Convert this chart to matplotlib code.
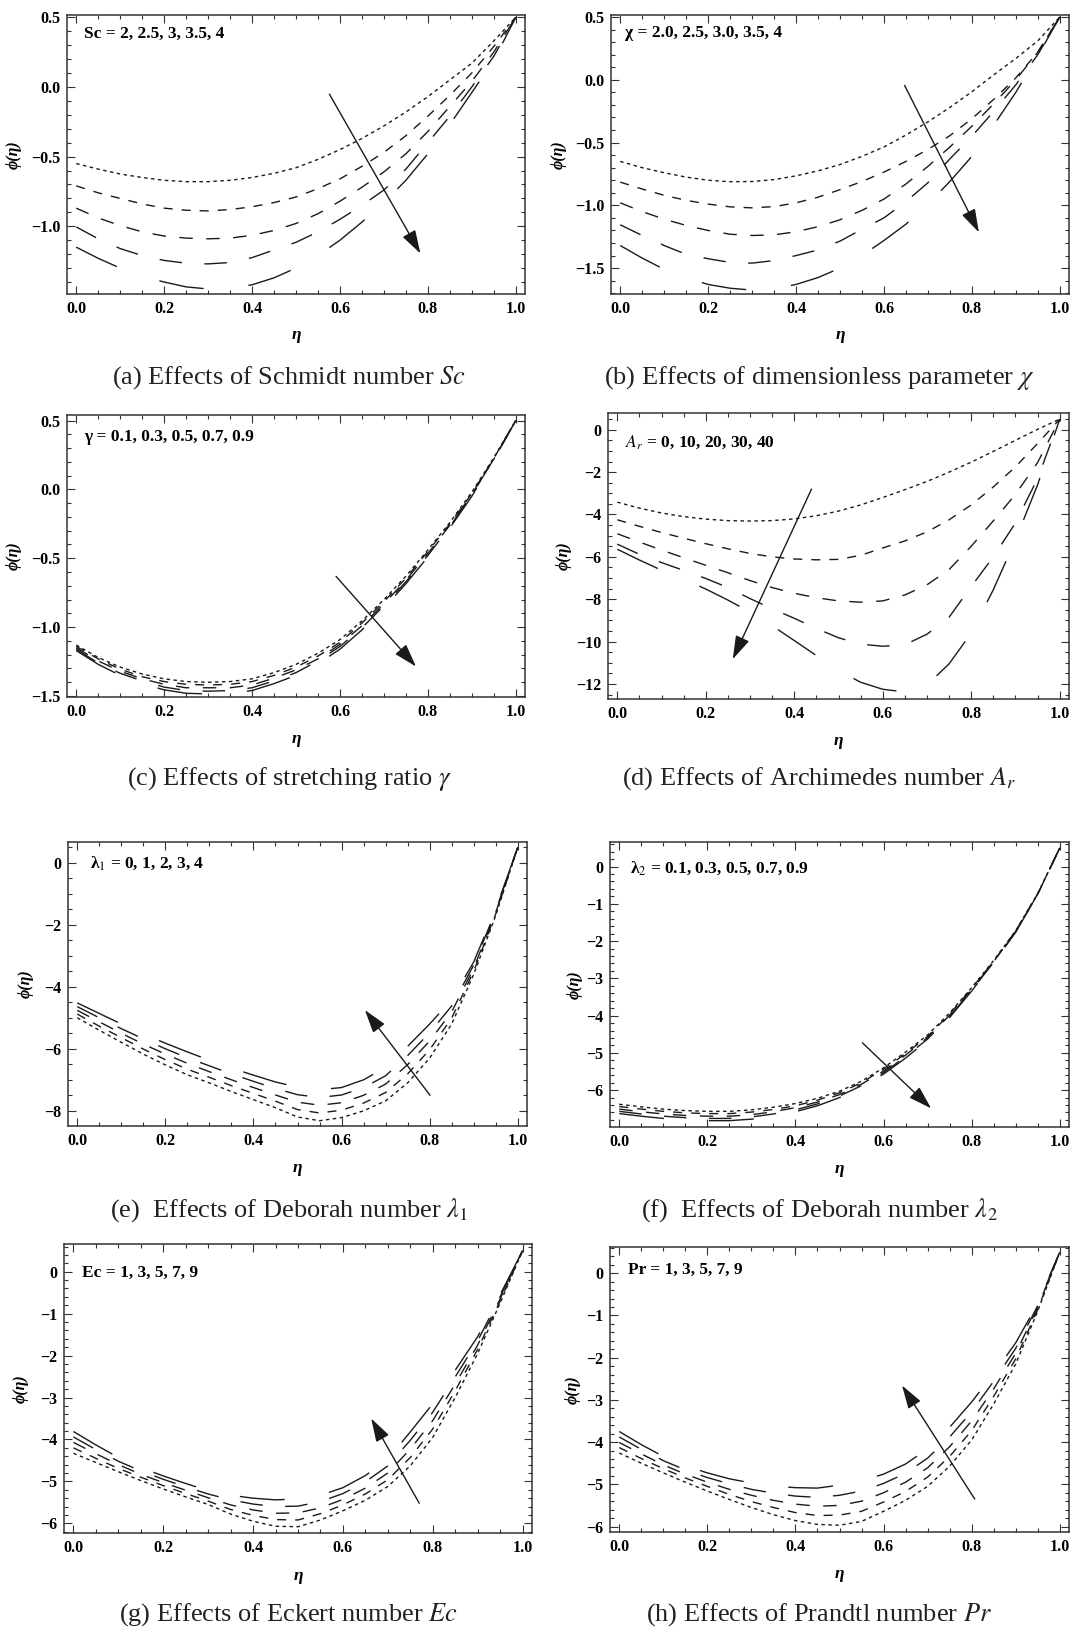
import matplotlib
matplotlib.use('Agg')
import matplotlib.pyplot as plt
from matplotlib.ticker import MultipleLocator, FuncFormatter

plt.rcParams['font.family'] = ['Liberation Serif', 'DejaVu Serif']
plt.rcParams['mathtext.fontset'] = 'stix'
plt.rcParams['lines.scale_dashes'] = False

# similarity variable
eta = [0.0, 0.05, 0.1, 0.15, 0.2, 0.25, 0.3, 0.35, 0.4, 0.45, 0.5,
       0.55, 0.6, 0.65, 0.7, 0.75, 0.8, 0.85, 0.9, 0.95, 1.0]

# (a) Schmidt number Sc = 2, 2.5, 3, 3.5, 4
phi_sc = [
    [-0.55, -0.59, -0.625, -0.65, -0.67, -0.68, -0.68, -0.67, -0.65, -0.62, -0.58, -0.52, -0.45, -0.37, -0.28, -0.18, -0.07, 0.05, 0.17, 0.33, 0.50],
    [-0.71, -0.76, -0.80, -0.84, -0.87, -0.885, -0.89, -0.88, -0.86, -0.83, -0.79, -0.73, -0.66, -0.57, -0.47, -0.35, -0.21, -0.06, 0.10, 0.29, 0.50],
    [-0.87, -0.94, -0.995, -1.04, -1.07, -1.085, -1.09, -1.085, -1.065, -1.03, -0.98, -0.91, -0.82, -0.72, -0.61, -0.48, -0.32, -0.14, 0.04, 0.25, 0.50],
    [-1.005, -1.09, -1.16, -1.21, -1.245, -1.265, -1.27, -1.26, -1.225, -1.17, -1.115, -1.04, -0.95, -0.85, -0.74, -0.59, -0.40, -0.21, 0.0, 0.22, 0.50],
    [-1.15, -1.23, -1.30, -1.36, -1.40, -1.435, -1.45, -1.445, -1.42, -1.37, -1.30, -1.21, -1.10, -0.97, -0.83, -0.67, -0.48, -0.27, -0.04, 0.19, 0.50],
]

# (b) chi = 2.0, 2.5, 3.0, 3.5, 4
phi_chi = [
    [-0.65, -0.70, -0.74, -0.775, -0.80, -0.812, -0.81, -0.795, -0.765, -0.725, -0.675, -0.61, -0.535, -0.44, -0.335, -0.22, -0.095, 0.04, 0.17, 0.31, 0.50],
    [-0.815, -0.87, -0.92, -0.96, -0.99, -1.012, -1.02, -1.01, -0.98, -0.935, -0.875, -0.81, -0.735, -0.65, -0.555, -0.445, -0.31, -0.155, 0.015, 0.22, 0.50],
    [-0.98, -1.05, -1.11, -1.16, -1.20, -1.23, -1.24, -1.235, -1.21, -1.17, -1.115, -1.04, -0.95, -0.83, -0.69, -0.535, -0.37, -0.19, 0.0, 0.22, 0.50],
    [-1.155, -1.24, -1.32, -1.39, -1.425, -1.455, -1.46, -1.44, -1.40, -1.355, -1.285, -1.19, -1.10, -0.97, -0.82, -0.63, -0.45, -0.25, -0.04, 0.20, 0.50],
    [-1.32, -1.42, -1.51, -1.575, -1.63, -1.66, -1.675, -1.665, -1.63, -1.575, -1.50, -1.40, -1.28, -1.15, -0.99, -0.81, -0.61, -0.36, -0.10, 0.19, 0.50],
]

# (c) stretching ratio gamma = 0.1 ... 0.9
phi_gamma = [
    [-1.13, -1.22, -1.29, -1.34, -1.375, -1.395, -1.40, -1.395, -1.375, -1.33, -1.27, -1.19, -1.09, -0.955, -0.80, -0.63, -0.44, -0.24, -0.02, 0.23, 0.50],
    [-1.14, -1.23, -1.305, -1.36, -1.395, -1.415, -1.42, -1.415, -1.395, -1.35, -1.29, -1.21, -1.11, -0.97, -0.815, -0.645, -0.45, -0.25, -0.03, 0.225, 0.50],
    [-1.15, -1.245, -1.32, -1.375, -1.415, -1.44, -1.44, -1.44, -1.42, -1.37, -1.31, -1.23, -1.125, -0.99, -0.83, -0.66, -0.465, -0.26, -0.035, 0.22, 0.50],
    [-1.16, -1.26, -1.335, -1.39, -1.435, -1.46, -1.465, -1.46, -1.44, -1.39, -1.33, -1.245, -1.14, -1.005, -0.845, -0.67, -0.48, -0.27, -0.04, 0.22, 0.50],
    [-1.17, -1.27, -1.35, -1.41, -1.455, -1.48, -1.485, -1.48, -1.46, -1.41, -1.35, -1.265, -1.16, -1.02, -0.86, -0.685, -0.49, -0.28, -0.05, 0.215, 0.50],
]

# (d) Archimedes number Ar = 0, 10, 20, 30, 40
phi_ar = [
    [-3.42, -3.70, -3.93, -4.10, -4.22, -4.29, -4.31, -4.29, -4.21, -4.06, -3.84, -3.55, -3.20, -2.83, -2.44, -2.00, -1.53, -1.02, -0.50, 0.02, 0.50],
    [-4.25, -4.56, -4.85, -5.12, -5.38, -5.62, -5.84, -6.00, -6.10, -6.14, -6.12, -5.93, -5.58, -5.25, -4.82, -4.25, -3.55, -2.70, -1.75, -0.65, 0.50],
    [-4.91, -5.30, -5.68, -6.04, -6.40, -6.75, -7.12, -7.45, -7.72, -7.93, -8.08, -8.14, -8.08, -7.80, -7.32, -6.60, -5.50, -4.30, -3.05, -1.55, 0.50],
    [-5.40, -5.88, -6.27, -6.64, -7.02, -7.45, -7.97, -8.45, -8.90, -9.38, -9.82, -10.12, -10.22, -10.15, -9.65, -8.85, -7.40, -6.00, -4.40, -2.30, 0.50],
    [-5.64, -6.15, -6.63, -7.05, -7.52, -8.04, -8.60, -9.25, -9.95, -10.66, -11.35, -11.92, -12.25, -12.38, -12.05, -11.05, -9.60, -7.55, -5.20, -2.60, 0.50],
]

# (e) Deborah number lambda1 = 0, 1, 2, 3, 4
phi_l1 = [
    [-5.00, -5.40, -5.79, -6.17, -6.52, -6.84, -7.10, -7.38, -7.64, -7.90, -8.20, -8.32, -8.22, -8.00, -7.68, -7.10, -6.30, -5.20, -3.60, -1.70, 0.50],
    [-4.88, -5.27, -5.64, -6.01, -6.35, -6.66, -6.92, -7.19, -7.44, -7.69, -7.96, -8.07, -7.98, -7.75, -7.41, -6.81, -6.03, -5.01, -3.50, -1.65, 0.50],
    [-4.76, -5.13, -5.50, -5.85, -6.17, -6.47, -6.74, -7.00, -7.25, -7.49, -7.72, -7.82, -7.74, -7.50, -7.14, -6.51, -5.75, -4.81, -3.40, -1.60, 0.50],
    [-4.64, -5.00, -5.35, -5.68, -6.00, -6.29, -6.55, -6.81, -7.05, -7.28, -7.48, -7.57, -7.49, -7.25, -6.87, -6.22, -5.48, -4.62, -3.30, -1.55, 0.50],
    [-4.52, -4.86, -5.20, -5.52, -5.82, -6.10, -6.37, -6.62, -6.85, -7.07, -7.24, -7.32, -7.25, -7.00, -6.60, -5.92, -5.20, -4.42, -3.20, -1.50, 0.50],
]

# (f) Deborah number lambda2 = 0.1 ... 0.9
phi_l2 = [
    [-6.38, -6.45, -6.51, -6.55, -6.57, -6.57, -6.53, -6.46, -6.36, -6.22, -6.03, -5.76, -5.40, -4.98, -4.52, -3.93, -3.25, -2.52, -1.72, -0.72, 0.50],
    [-6.44, -6.51, -6.57, -6.61, -6.63, -6.63, -6.59, -6.52, -6.42, -6.27, -6.07, -5.80, -5.44, -5.02, -4.56, -3.96, -3.27, -2.54, -1.73, -0.73, 0.50],
    [-6.51, -6.58, -6.64, -6.68, -6.70, -6.70, -6.66, -6.58, -6.47, -6.32, -6.12, -5.84, -5.49, -5.06, -4.59, -3.99, -3.30, -2.55, -1.74, -0.74, 0.50],
    [-6.57, -6.64, -6.70, -6.74, -6.76, -6.76, -6.72, -6.64, -6.53, -6.37, -6.16, -5.88, -5.53, -5.10, -4.63, -4.02, -3.32, -2.57, -1.75, -0.74, 0.50],
    [-6.63, -6.70, -6.76, -6.80, -6.82, -6.82, -6.78, -6.70, -6.58, -6.42, -6.20, -5.92, -5.57, -5.14, -4.66, -4.05, -3.34, -2.58, -1.76, -0.75, 0.50],
]

# (g) Eckert number Ec = 1, 3, 5, 7, 9
phi_ec = [
    [-4.33, -4.55, -4.77, -4.98, -5.18, -5.37, -5.55, -5.78, -5.95, -6.07, -6.08, -5.92, -5.70, -5.45, -5.12, -4.63, -3.95, -3.00, -1.95, -0.75, 0.50],
    [-4.20, -4.45, -4.69, -4.90, -5.10, -5.29, -5.47, -5.67, -5.81, -5.91, -5.92, -5.77, -5.56, -5.30, -4.96, -4.43, -3.75, -2.84, -1.85, -0.70, 0.50],
    [-4.07, -4.34, -4.60, -4.83, -5.03, -5.21, -5.39, -5.56, -5.68, -5.76, -5.75, -5.63, -5.43, -5.16, -4.80, -4.23, -3.55, -2.68, -1.75, -0.65, 0.50],
    [-3.94, -4.24, -4.52, -4.75, -4.95, -5.13, -5.30, -5.44, -5.54, -5.60, -5.59, -5.48, -5.29, -5.01, -4.63, -4.02, -3.35, -2.51, -1.65, -0.60, 0.50],
    [-3.81, -4.13, -4.43, -4.67, -4.87, -5.05, -5.22, -5.33, -5.40, -5.44, -5.42, -5.33, -5.15, -4.86, -4.47, -3.82, -3.15, -2.35, -1.55, -0.55, 0.50],
]

# (h) Prandtl number Pr = 1, 3, 5, 7, 9
phi_pr = [
    [-4.26, -4.50, -4.73, -4.95, -5.16, -5.36, -5.55, -5.72, -5.86, -5.95, -5.97, -5.88, -5.64, -5.38, -5.05, -4.57, -3.95, -3.10, -2.15, -0.90, 0.50],
    [-4.13, -4.39, -4.63, -4.85, -5.05, -5.24, -5.41, -5.55, -5.67, -5.74, -5.73, -5.64, -5.42, -5.17, -4.83, -4.34, -3.73, -2.92, -2.03, -0.86, 0.50],
    [-4.01, -4.28, -4.54, -4.76, -4.95, -5.12, -5.26, -5.38, -5.47, -5.52, -5.50, -5.40, -5.20, -4.95, -4.61, -4.11, -3.50, -2.74, -1.90, -0.81, 0.50],
    [-3.88, -4.17, -4.44, -4.66, -4.84, -4.99, -5.12, -5.21, -5.28, -5.31, -5.26, -5.16, -4.98, -4.74, -4.38, -3.88, -3.28, -2.56, -1.78, -0.77, 0.50],
    [-3.75, -4.06, -4.34, -4.56, -4.73, -4.87, -4.97, -5.04, -5.08, -5.09, -5.02, -4.92, -4.76, -4.52, -4.16, -3.65, -3.05, -2.38, -1.65, -0.72, 0.50],
]

labels = [
    'Sc = 2, 2.5, 3, 3.5, 4',
    'χ = 2.0, 2.5, 3.0, 3.5, 4',
    'γ = 0.1, 0.3, 0.5, 0.7, 0.9',
    '$A_r$ = 0, 10, 20, 30, 40',
    'λ$_1$ = 0, 1, 2, 3, 4',
    'λ$_2$ = 0.1, 0.3, 0.5, 0.7, 0.9',
    'Ec = 1, 3, 5, 7, 9',
    'Pr = 1, 3, 5, 7, 9',
]
captions = [
    '(a) Effects of Schmidt number $Sc$',
    '(b) Effects of dimensionless parameter $\\chi$',
    '(c) Effects of stretching ratio $\\gamma$',
    '(d) Effects of Archimedes number $A_r$',
    '(e)  Effects of Deborah number $\\lambda_1$',
    '(f)  Effects of Deborah number $\\lambda_2$',
    '(g) Effects of Eckert number $Ec$',
    '(h) Effects of Prandtl number $Pr$',
]

W, H = 1075, 1635
fig = plt.figure(figsize=(W / 100, H / 100), dpi=100)

# dash patterns (points) for the five curves, short -> long
dash_styles = [(2.5, 2.5), (6.5, 6.5), (9.7, 9.7), (16.2, 16.2), (32.4, 32.4)]
ink = '#1a1a1a'

# frame boxes in pixels: left, top, right, bottom
panels = [
    dict(data=phi_sc, box=(67, 15, 525, 294), ylim=(-1.486, 0.516), ymaj=0.5, ymin=0.1, fmt='%.1f',
         arrow=((0.576, -0.052), (0.783, -1.195)), lab=(0.038, 0.934), ylx=-0.116),
    dict(data=phi_chi, box=(611, 15, 1069, 294), ylim=(-1.706, 0.516), ymaj=0.5, ymin=0.1, fmt='%.1f',
         arrow=((0.647, -0.045), (0.816, -1.215)), lab=(0.030, 0.934), ylx=-0.115),
    dict(data=phi_gamma, box=(67, 415, 525, 697), ylim=(-1.507, 0.54), ymaj=0.5, ymin=0.1, fmt='%.1f',
         arrow=((0.591, -0.631), (0.773, -1.286)), lab=(0.038, 0.923), ylx=-0.116),
    dict(data=phi_ar, box=(608, 413, 1069, 699), ylim=(-12.71, 0.79), ymaj=2, ymin=0.5, fmt='%d',
         arrow=((0.439, -2.80), (0.261, -10.83)), lab=(0.037, 0.897), ylx=-0.095),
    dict(data=phi_l1, box=(68, 842, 527, 1126), ylim=(-8.49, 0.67), ymaj=2, ymin=0.5, fmt='%d',
         arrow=((0.801, -7.50), (0.653, -4.75)), lab=(0.047, 0.924), ylx=-0.092),
    dict(data=phi_l2, box=(610, 842, 1069, 1127), ylim=(-6.99, 0.66), ymaj=1, ymin=0.2, fmt='%d',
         arrow=((0.552, -4.73), (0.708, -6.49)), lab=(0.043, 0.907), ylx=-0.077),
    dict(data=phi_ec, box=(64, 1244, 532, 1533), ylim=(-6.23, 0.66), ymaj=1, ymin=0.2, fmt='%d',
         arrow=((0.770, -5.52), (0.663, -3.50)), lab=(0.039, 0.900), ylx=-0.093),
    dict(data=phi_pr, box=(610, 1247, 1069, 1532), ylim=(-6.13, 0.62), ymaj=1, ymin=0.2, fmt='%d',
         arrow=((0.807, -5.35), (0.642, -2.66)), lab=(0.039, 0.918), ylx=-0.081),
]
caption_pos = [(289, 378), (819, 378), (289, 779), (819, 779),
               (289, 1210), (819, 1210), (289, 1615), (819, 1615)]


def make_fmt(f):
    def _f(v, pos):
        s = f % v
        if s in ('-0', '-0.0'):
            s = s[1:]
        return s.replace('-', '\u2212')
    return FuncFormatter(_f)


for p, lab, cap, cpos in zip(panels, labels, captions, caption_pos):
    L, T, R, B = p['box']
    ax = fig.add_axes([L / W, 1 - B / H, (R - L) / W, (B - T) / H])
    for ys, ds in zip(p['data'], dash_styles):
        ax.plot(eta, ys, color=ink, lw=1.0, dashes=ds)
    ax.set_xlim(-0.021, 1.021)
    ax.set_ylim(*p['ylim'])
    ax.xaxis.set_major_locator(MultipleLocator(0.2))
    ax.xaxis.set_minor_locator(MultipleLocator(0.05))
    ax.yaxis.set_major_locator(MultipleLocator(p['ymaj']))
    ax.yaxis.set_minor_locator(MultipleLocator(p['ymin']))
    ax.xaxis.set_major_formatter(make_fmt('%.1f'))
    ax.yaxis.set_major_formatter(make_fmt(p['fmt']))
    ax.tick_params(which='both', direction='in', top=True, right=True,
                   color='#333333', width=0.8, labelsize=11.5, pad=5)
    ax.tick_params(which='major', length=6)
    ax.tick_params(which='minor', length=3)
    plt.setp(ax.get_xticklabels() + ax.get_yticklabels(), fontweight='bold')
    for sp in ax.spines.values():
        sp.set_linewidth(1.1)
        sp.set_color('#333333')

    ax.annotate('', xy=p['arrow'][1], xytext=p['arrow'][0],
                arrowprops=dict(arrowstyle='-|>,head_length=0.9,head_width=0.28',
                                mutation_scale=16, lw=1.0, color=ink,
                                shrinkA=0, shrinkB=0))
    ax.text(p['lab'][0], p['lab'][1], lab, transform=ax.transAxes,
            ha='left', va='center', fontsize=12.5, fontweight='bold')
    ax.text(0.5, -0.148, 'η', transform=ax.transAxes, ha='center', va='center',
            fontsize=12.5, fontweight='bold', fontstyle='italic')
    ax.text(p['ylx'], 0.5, 'ϕ(η)', transform=ax.transAxes, ha='center', va='center',
            rotation=90, fontsize=11.5, fontweight='bold', fontstyle='italic')

    fig.text(cpos[0] / W, 1 - cpos[1] / H, cap, ha='center', va='center',
             fontsize=19, color='#222222')

fig.savefig('out.png', dpi=100, facecolor='white')
